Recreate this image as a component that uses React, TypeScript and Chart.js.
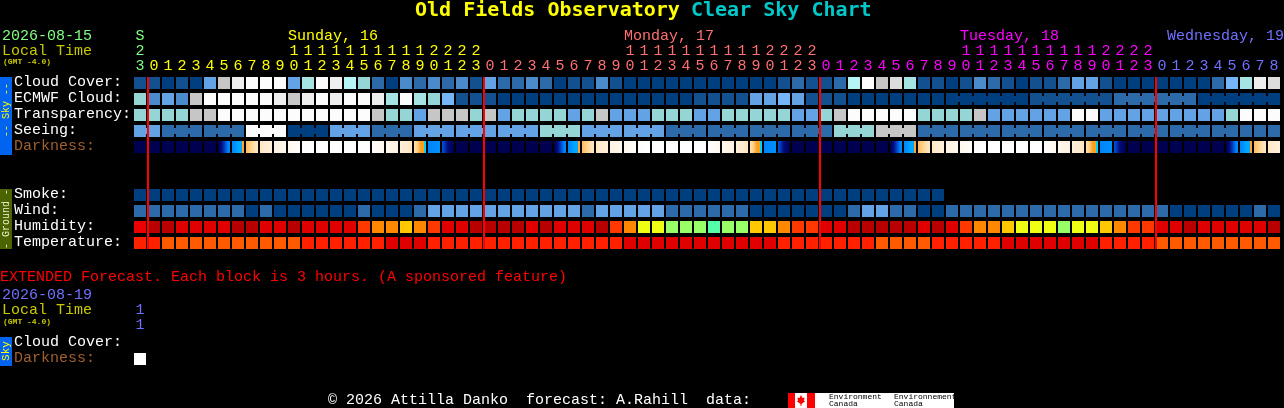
import React, { useEffect, useRef } from "react";
import { Chart, registerables } from "chart.js";

Chart.register(...registerables);

// ---- chart data ----
const hourLabels: string[][] = [
  ["S", "2", "3"],
  ...[0, 1, 2].flatMap(() => ["0","1","2","3","4","5","6","7","8","9","10","11","12","13","14","15","16","17","18","19","20","21","22","23"].map((h) => h.split(""))),
  ["0"], ["1"], ["2"], ["3"], ["4"], ["5"], ["6"], ["7"], ["8"],
];

const rowLabels = ["Cloud Cover:", "ECMWF Cloud:", "Transparency:", "Seeing:", "Darkness:", "Smoke:", "Wind:", "Humidity:", "Temperature:", "Cloud Cover:", "Darkness:"];

const skyPalette = ["#003f7f", "#13508f", "#2c6aaa", "#4b8bcc", "#63a3e5", "#76b5f7", "#95d5d5", "#a6e3e3", "#b5f5f5", "#c6c6c6", "#dddddd", "#eeeeee", "#fcfcfc"];
const humidityPalette = ["#b80000", "#e00000", "#ee0000", "#ff3800", "#ff8800", "#ffc800", "#eeff14", "#99ff66", "#55ffaa"];
const temperaturePalette = ["#e00000", "#ff2000", "#ff5a00"];

const cloudCover = [1,1,0,1,0,4,9,11,12,12,12,4,7,12,11,8,6,2,0,3,2,3,2,3,1,4,2,2,3,2,0,1,1,3,1,0,0,0,0,0,0,0,0,0,0,0,1,2,1,1,2,8,12,9,10,7,1,1,0,1,3,2,1,0,1,1,2,4,4,1,0,0,0,0,0,0,0,2,5,7,11,10];
const ecmwfCloud = [6,3,4,3,9,12,12,12,12,12,11,9,11,12,11,12,12,11,7,12,7,6,5,1,1,1,0,0,0,0,0,0,0,0,0,0,0,0,0,0,1,1,1,1,4,4,5,4,1,1,1,0,0,0,0,0,0,0,0,0,0,0,0,0,1,1,1,1,1,1,2,2,2,2,2,2,0,0,0,0,0,0];
const transparency = [6,6,6,6,9,9,12,12,12,12,12,12,12,12,12,12,12,9,6,6,4,9,9,9,6,9,4,6,6,6,6,4,6,9,4,4,4,6,6,6,4,4,6,6,6,6,6,4,4,6,9,12,12,12,12,12,6,6,6,6,9,4,4,4,4,4,4,12,12,4,4,4,4,4,4,4,4,4,6,12,12,12];
const seeing = [4,4,2,2,2,2,2,2,12,12,12,0,0,0,4,4,4,2,2,2,4,4,4,4,4,4,4,4,4,6,6,6,4,4,4,4,4,4,2,2,2,2,2,2,2,2,2,2,2,2,6,6,6,9,9,9,2,2,2,2,2,2,2,2,2,2,2,2,2,2,2,2,2,2,2,2,2,2,2,2,2,2];
const smoke = [0,0,0,0,0,0,0,0,0,0,0,0,0,0,0,0,0,0,0,0,0,0,0,0,0,0,0,0,0,0,0,0,0,0,0,0,0,0,0,0,0,0,0,0,0,0,0,0,0,0,0,0,0,0,0,0,0,0];
const wind = [2,2,2,2,2,2,2,2,0,2,0,0,0,0,0,0,2,0,0,0,2,4,4,4,4,4,4,4,4,4,4,4,2,4,4,4,4,4,2,2,2,2,2,2,0,0,0,0,0,0,0,2,4,4,2,2,0,0,2,2,2,2,2,2,2,2,2,2,2,2,2,2,2,2,0,0,0,0,0,0,2,0];
const humidity = [2,0,0,1,1,1,1,0,0,1,1,0,1,1,1,1,3,4,4,5,4,3,1,1,0,0,0,0,1,0,1,1,1,0,3,4,6,6,7,7,7,8,7,7,5,5,4,3,3,1,1,0,0,0,0,0,1,0,1,3,4,4,5,6,6,6,7,6,6,5,4,3,3,1,1,0,1,1,1,1,1,0];
const temperature = [1,1,2,2,2,2,2,2,2,2,2,2,1,1,1,1,1,1,0,0,0,1,1,1,1,1,1,1,1,1,1,1,1,1,1,0,0,0,0,0,0,0,0,0,0,0,1,1,1,1,1,1,1,2,2,2,2,1,1,1,1,1,0,0,0,0,0,0,0,1,1,1,1,2,2,2,2,2,2,2,2,2];

// Runs of columns forecast as one block (column count per run; 1 = not joined)
const seeingBlocks = [2,3,3,3,3,3,3,3,3,3,3,3,3,3,3,3,3,3,3,3,3,3,3,3,3,3,2];
const ecmwfBlocks = [1,1,1,1,1,1,1,1,1,1,1,1,1,1,1,1,1,1,1,1,1,1,1,1,1,1,1,1,1,1,1,1,1,1,1,1,1,1,1,1,1,1,1,1,1,1,1,1,1,1,1,1,1,1,1,1,1,1,6,6,6,6];

// Darkness shade colour stops, by local hour of the forecast column
const night = ["#000050", "#000050"];
const darknessByHour: string[][] = [
  night, night, night, night, night,
  ["#000050", "#000a78", "#0040c8", "#0084f8"],
  ["#0084f8", "#0094ff", "#00a8ff", "#ffa030"],
  ["#ffbc58", "#ffd79a", "#ffe7c6"],
  ["#ffe8c8", "#fff0dc"],
  ["#fff2e0", "#fff8ee"],
  ["#fff9f0", "#fffdf9"],
  ["#fffdfa", "#ffffff"],
  ["#ffffff", "#ffffff"], ["#ffffff", "#ffffff"], ["#ffffff", "#ffffff"], ["#ffffff", "#ffffff"],
  ["#fffefc", "#fff8f0"],
  ["#fff8ee", "#fff1de"],
  ["#fff0dc", "#ffe6c2"],
  ["#ffe2b8", "#ffcd84", "#ffa020", "#00d0ff"],
  ["#0084f8", "#0090ff"],
  ["#0058e0", "#000a78", "#000050"],
  night, night,
];
const forecastHours = [23, ...[0, 1, 2].flatMap(() => Array.from({ length: 24 }, (_, h) => h)), 0, 1, 2, 3, 4, 5, 6, 7, 8];
const midnightColumns = [0, 24, 48, 72];

const rowPosition = { cloud: 0, ecmwf: 1, transparency: 2, seeing: 3, darkness: 4, smoke: 7, wind: 8, humidity: 9, temperature: 10, extended: 17.25 };
const labelPositions = [0.42, 1.42, 2.42, 3.42, 4.42, 7.42, 8.42, 9.42, 10.42, 16.67, 17.67];

const titleMain = "Old Fields Observatory";
const titleTail = "Clear Sky Chart";
const dayNames = [
  { text: "Sunday, 16", col: 11, color: "#ffff00" },
  { text: "Monday, 17", col: 35, color: "#ff7070" },
  { text: "Tuesday, 18", col: 59, color: "#ff00ff" },
];
const lastDay = "Wednesday, 19";
const extendedNote = "EXTENDED Forecast. Each block is 3 hours. (A sponsored feature)";
const footer = "\u00a9 2026 Attilla Danko  forecast: A.Rahill  data:";

// ---- styling ----
const MONO = '"Liberation Mono", monospace';
const TITLE_FONT = 'bold 20px "DejaVu Sans Mono", monospace';
const GREEN = "#80ff80";
const OLIVE = "#c8c800";
const PERI = "#7070ff";
const BROWN = "#a0602f";
const cellStyle = { barThickness: 12, grouped: false, borderWidth: 0, borderSkipped: false, inflateAmount: 0 };

function tickColor(i: number) {
  if (i === 0) return GREEN;
  if (i <= 24) return "#ffff00";
  if (i <= 48) return "#ff7070";
  if (i <= 72) return "#ff00ff";
  return PERI;
}

const cellsFor = (values: number[], row: number) => values.map(() => [row + 0.125, row + 0.875]);

const darknessFill = (ctx: any) => {
  const hour = forecastHours[ctx.dataIndex];
  if (hour === undefined) return "#000050";
  const stops = darknessByHour[hour];
  const chart = ctx.chart;
  const cx = chart.scales.x ? chart.scales.x.getPixelForValue(ctx.dataIndex) : NaN;
  if (!Number.isFinite(cx)) return stops[0];
  const g = chart.ctx.createLinearGradient(cx - 6, 0, cx + 6, 0);
  stops.forEach((c: string, i: number) => {
    // the last stop of a dusk or dawn edge is a thin sliver at the cell's end
    const sliver = stops.length === 4 && c !== "#0084f8" && i === stops.length - 1;
    if (sliver) {
      g.addColorStop(0.84, stops[i - 1]);
      g.addColorStop(0.85, c);
      g.addColorStop(1, c);
    } else {
      g.addColorStop(stops.length === 4 ? (i / (stops.length - 1)) * 0.84 : i / (stops.length - 1), c);
    }
  });
  return g;
};

function connect(chart: any, values: number[], palette: string[], row: number, blocks: number[]) {
  const { ctx, scales } = chart;
  let col = 0;
  blocks.forEach((len) => {
    for (let i = col; i < col + len - 1; i++) {
      const x0 = scales.x.getPixelForValue(i) + 6;
      const x1 = scales.x.getPixelForValue(i + 1) - 6;
      const y0 = scales.y.getPixelForValue(row + 0.3125);
      const y1 = scales.y.getPixelForValue(row + 0.6875);
      ctx.fillStyle = palette[values[i]];
      ctx.fillRect(x0, y0, x1 - x0, y1 - y0);
    }
    col += len;
  });
}

const overlay = {
  id: "overlay",
  afterDatasetsDraw(chart: any) {
    const { ctx, scales } = chart;
    connect(chart, seeing, skyPalette, rowPosition.seeing, seeingBlocks);
    connect(chart, ecmwfCloud, skyPalette, rowPosition.ecmwf, ecmwfBlocks);

    // midnight markers
    ctx.fillStyle = "#ff0000";
    midnightColumns.forEach((c) => {
      const x = scales.x.getPixelForValue(c) + 7;
      ctx.fillRect(x, scales.y.getPixelForValue(0.125), 2, 172);
    });

    const text = (s: string, x: number, y: number, color: string, font = `15px ${MONO}`, align: CanvasTextAlign = "left") => {
      ctx.font = font;
      ctx.fillStyle = color;
      ctx.textAlign = align;
      ctx.textBaseline = "middle";
      ctx.fillText(s, x, y);
    };
    const band = (y0: number, y1: number, fill: string, label: string, color: string, font: string, cy: number) => {
      ctx.fillStyle = fill;
      ctx.fillRect(0, y0, 12, y1 - y0);
      ctx.save();
      ctx.translate(6, cy);
      ctx.rotate(-Math.PI / 2);
      text(label, 0, 0, color, font, "center");
      ctx.restore();
    };

    // header
    text(titleMain, 415, 11, "#ffff00", TITLE_FONT);
    text(titleTail, 691, 11, "#00c8c8", TITLE_FONT);
    text("2026-08-15", 2, 36, GREEN);
    text("Local Time", 2, 51, OLIVE);
    text("(GMT -4.0)", 3, 62, OLIVE, `bold 8px ${MONO}`);
    dayNames.forEach((d) => text(d.text, scales.x.getPixelForValue(d.col) - 6, 36, d.color));
    text(lastDay, 1284, 36, PERI, undefined, "right");

    // side bands
    band(77, 155, "#0064f0", "-- Sky --", "#ffff00", `10px ${MONO}`, 110);
    band(189, 249, "#4b6400", "- Ground -", "#f0f0d0", `10px ${MONO}`, 219);
    band(337, 366, "#0064f0", "Sky", "#ffff00", `11px ${MONO}`, 351);

    // extended forecast
    text(extendedNote, 0, 277, "#ff0000");
    text("2026-08-19", 2, 295, PERI);
    text("Local Time", 2, 310, OLIVE);
    text("(GMT -4.0)", 3, 322, OLIVE, `bold 8px ${MONO}`);
    text("1", scales.x.getPixelForValue(0), 310, PERI, undefined, "center");
    text("1", scales.x.getPixelForValue(0), 325, PERI, undefined, "center");

    // footer
    text(footer, 328, 400, "#ffffff");
    ctx.fillStyle = "#ff0000";
    ctx.fillRect(788, 393, 27, 15);
    ctx.fillStyle = "#ffffff";
    ctx.fillRect(795, 393, 12, 15);
    ctx.fillRect(815, 393, 139, 15);
    ctx.fillStyle = "#ff0000";
    ctx.beginPath();
    [[801, 395], [802.5, 398], [804.5, 397.5], [804, 401], [805.5, 401], [801.5, 404], [801.5, 406], [800.5, 406], [800.5, 404], [796.5, 401], [798, 401], [797.5, 397.5], [799.5, 398]].forEach(([x, y], i) => (i ? ctx.lineTo(x, y) : ctx.moveTo(x, y)));
    ctx.closePath();
    ctx.fill();
    text("Environment", 829, 397, "#000000", `8px ${MONO}`);
    text("Canada", 829, 404, "#000000", `8px ${MONO}`);
    text("Environnement", 894, 397, "#000000", `8px ${MONO}`);
    text("Canada", 894, 404, "#000000", `8px ${MONO}`);
  },
};

export default function App() {
  const ref = useRef<HTMLCanvasElement>(null);
  useEffect(() => {
    document.body.style.margin = "0";
    document.body.style.background = "#000";
    const row = (values: number[], palette: string[], y: number) => ({
      data: cellsFor(values, y),
      backgroundColor: values.map((v) => palette[v]),
      ...cellStyle,
    });
    const chart = new Chart(ref.current!, {
      type: "bar",
      data: {
        labels: hourLabels as any,
        datasets: [
          row(cloudCover, skyPalette, rowPosition.cloud),
          row(ecmwfCloud, skyPalette, rowPosition.ecmwf),
          row(transparency, skyPalette, rowPosition.transparency),
          row(seeing, skyPalette, rowPosition.seeing),
          { data: cellsFor(forecastHours, rowPosition.darkness), backgroundColor: darknessFill, ...cellStyle },
          row(smoke, skyPalette, rowPosition.smoke),
          row(wind, skyPalette, rowPosition.wind),
          row(humidity, humidityPalette, rowPosition.humidity),
          row(temperature, temperaturePalette, rowPosition.temperature),
          { data: [[rowPosition.extended + 0.125, rowPosition.extended + 0.875]], backgroundColor: "#ffffff", ...cellStyle },
        ] as any,
      },
      options: {
        responsive: false,
        devicePixelRatio: 1,
        animation: false,
        events: [],
        layout: { padding: { left: 14, top: 0, right: 3, bottom: 41 } },
        plugins: { legend: { display: false }, tooltip: { enabled: false }, title: { display: false } },
        scales: {
          x: {
            position: "top",
            grid: { display: false, drawTicks: false },
            border: { display: false },
            afterFit: (s: any) => { s.height = 75; },
            ticks: {
              autoSkip: false,
              maxRotation: 0,
              minRotation: 0,
              padding: 1,
              color: (c: any) => tickColor(c.index),
              font: { family: MONO, size: 15, lineHeight: 1 },
            },
          },
          y: {
            type: "linear",
            reverse: true,
            min: 0,
            max: 18.25,
            grid: { display: false, drawTicks: false },
            border: { display: false },
            afterFit: (s: any) => { s.width = 119; },
            afterBuildTicks: (s: any) => { s.ticks = labelPositions.map((value) => ({ value })); },
            ticks: {
              autoSkip: false,
              padding: 0,
              crossAlign: "far",
              callback: (_v: any, i: number) => rowLabels[i],
              color: (c: any) => (c.index === 4 || c.index === 10 ? BROWN : "#ffffff"),
              font: { family: MONO, size: 15 },
            },
          },
        },
      } as any,
      plugins: [overlay],
    });
    return () => chart.destroy();
  }, []);
  return (
    <div style={{ width: 1284, height: 408, background: "#000", overflow: "hidden" }}>
      <canvas ref={ref} width={1284} height={408} style={{ display: "block" }} />
    </div>
  );
}
